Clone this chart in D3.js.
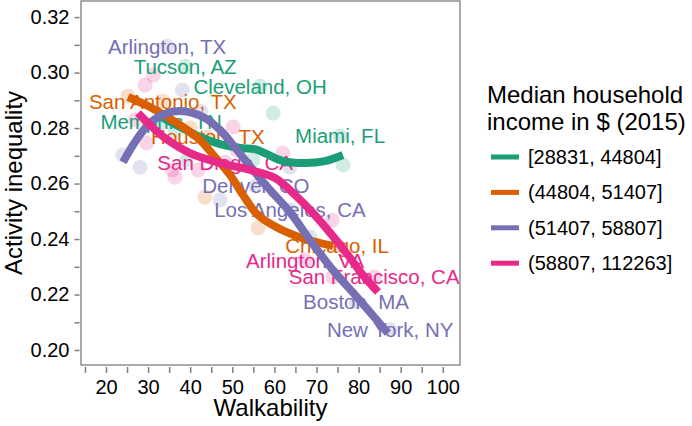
<!DOCTYPE html>
<html><head><meta charset="utf-8">
<script src="https://cdn.jsdelivr.net/npm/d3@7"></script>
<style>
html,body{margin:0;padding:0;background:#fff;}
text{font-family:"Liberation Sans",Arial,Helvetica,sans-serif;}
</style></head>
<body><svg id="chart" width="692" height="426"></svg>
<script>
// ---- data ----
const groups = ["[28831, 44804]", "(44804, 51407]", "(51407, 58807]", "(58807, 112263]"];
const colors = ["#1B9E77", "#D95F02", "#7570B3", "#E7298A"];

// labelled cities: [name, group index, walkability, inequality]
const cities = [
  ["Arlington, TX", 2, 34.5, 0.3095],
  ["Tucson, AZ", 0, 38.8, 0.3023],
  ["Cleveland, OH", 0, 56.6, 0.2951],
  ["San Antonio, TX", 1, 33.5, 0.2897],
  ["Memphis, TN", 0, 33.1, 0.2822],
  ["Houston, TX", 1, 44.2, 0.2768],
  ["Miami, FL", 0, 75.6, 0.2771],
  ["San Diego, CA", 3, 48.3, 0.2677],
  ["Denver, CO", 2, 55.6, 0.2591],
  ["Los Angeles, CA", 2, 63.7, 0.2505],
  ["Chicago, IL", 1, 74.9, 0.2378],
  ["Arlington, VA", 3, 67.3, 0.2324],
  ["San Francisco, CA", 3, 83.7, 0.2263],
  ["Boston, MA", 2, 79.4, 0.2173],
  ["New York, NY", 2, 87.5, 0.2072]
];

// other (unlabelled) cities: [group index, walkability, inequality]
const otherPoints = [
  [3, 31.2, 0.2991], [3, 29.3, 0.2955], [1, 25.2, 0.2915], [2, 38.1, 0.2937],
  [0, 59.7, 0.2854], [3, 50.2, 0.2804], [3, 29.7, 0.2746], [2, 24.0, 0.2703],
  [2, 28.1, 0.2659], [3, 35.7, 0.2649], [3, 36.4, 0.2623], [0, 39.2, 0.2685],
  [3, 41.9, 0.2649], [1, 43.5, 0.2551], [2, 47.1, 0.2541], [3, 62.0, 0.2710],
  [2, 63.7, 0.2659], [0, 54.9, 0.2685], [3, 51.1, 0.2721], [0, 76.3, 0.2667],
  [1, 56.1, 0.2440], [2, 68.5, 0.2407], [3, 73.7, 0.2468], [3, 73.9, 0.2263],
  [1, 40.0, 0.2800], [0, 36.5, 0.2790], [3, 27.0, 0.2830], [2, 42.5, 0.2860]
];

// smoothed trend curves per group: [walkability, inequality]
const smoothGreen = [[32.83,0.2843],[37.58,0.2804],[42.33,0.2768],[47.08,0.2742],[51.83,0.2728],[55.39,0.2724],[58.24,0.2706],[62.04,0.2681],[67.27,0.2674],[72.02,0.2681],[76.29,0.2703]];
const smoothOrange = [[25.23,0.2912],[30.45,0.2876],[36.86,0.2818],[42.33,0.2757],[45.89,0.2695],[49.45,0.2631],[52.54,0.2559],[56.10,0.2486],[61.33,0.2436],[67.27,0.2400],[73.92,0.2375]];
const smoothPurple = [[24.04,0.2677],[26.89,0.2750],[30.45,0.2818],[34.49,0.2854],[38.29,0.2861],[43.04,0.2840],[47.08,0.2793],[51.12,0.2721],[54.92,0.2649],[58.95,0.2577],[63.71,0.2497],[68.46,0.2396],[73.92,0.2288],[79.62,0.2191],[86.98,0.2061]];
const smoothPink = [[27.60,0.2854],[30.45,0.2811],[34.01,0.2764],[39.95,0.2710],[47.08,0.2674],[54.20,0.2649],[60.14,0.2620],[64.89,0.2559],[69.64,0.2486],[73.68,0.2414],[77.48,0.2342],[81.05,0.2270],[84.61,0.2209]];
const smooths = [smoothGreen, smoothOrange, smoothPurple, smoothPink];

const xTicks = d3.range(15, 101, 5);
const xLabels = [20, 30, 40, 50, 60, 70, 80, 90, 100];
const yTicks = d3.range(0.20, 0.3251, 0.01).map(v => +v.toFixed(2));
const yLabels = [0.20, 0.22, 0.24, 0.26, 0.28, 0.30, 0.32];

// ---- drawing ----
const svg = d3.select("#chart");
const P = {l: 81, r: 460, t: 1, b: 365};
const x = d3.scaleLinear().domain([14.06, 104.09]).range([P.l, P.r]);
const y = d3.scaleLinear().domain([0.1946, 0.3258]).range([P.b, P.t]);
const grey = "#7f7f7f";

svg.append("rect").attr("width", 692).attr("height", 426).attr("fill", "#fff");

// points
const allPts = cities.map(c => [c[1], c[2], c[3]]).concat(otherPoints);
svg.append("g").selectAll("circle").data(allPts).join("circle")
  .attr("cx", d => x(d[1])).attr("cy", d => y(d[2])).attr("r", 7.5)
  .attr("fill", d => colors[d[0]]).attr("fill-opacity", 0.2);

// labels
svg.append("g").selectAll("text").data(cities).join("text")
  .attr("x", d => x(d[2])).attr("y", d => y(d[3])).attr("dy", "0.36em")
  .attr("text-anchor", "middle").attr("font-size", 20.5)
  .attr("fill", d => colors[d[1]]).text(d => d[0]);

// smooth lines
const line = d3.line().x(d => x(d[0])).y(d => y(d[1])).curve(d3.curveCatmullRom.alpha(0.5));
svg.append("g").selectAll("path").data(smooths).join("path")
  .attr("d", line).attr("fill", "none")
  .attr("stroke", (d, i) => colors[i]).attr("stroke-width", 8)
  .attr("stroke-linecap", "butt").attr("stroke-linejoin", "round");

// panel border
svg.append("rect").attr("x", P.l).attr("y", P.t).attr("width", P.r - P.l).attr("height", P.b - P.t)
  .attr("fill", "none").attr("stroke", grey).attr("stroke-width", 1.3);

// axes
const xAxis = svg.append("g").attr("transform", `translate(0,${P.b + 2})`)
  .call(d3.axisBottom(x).tickValues(xTicks).tickSize(6).tickPadding(7)
    .tickFormat(d => xLabels.includes(d) ? d : ""));
const yAxis = svg.append("g").attr("transform", `translate(${P.l - 1.5},0)`)
  .call(d3.axisLeft(y).tickValues(yTicks).tickSize(5).tickPadding(5)
    .tickFormat(d => yLabels.some(v => Math.abs(v - d) < 1e-6) ? d3.format(".2f")(d) : ""));
[xAxis, yAxis].forEach(a => {
  a.select(".domain").remove();
  a.selectAll(".tick line").attr("stroke", grey).attr("stroke-width", 1.5);
  a.selectAll(".tick text").attr("font-size", 20).attr("fill", "#000")
    .style("font-family", '"Liberation Sans",Arial,Helvetica,sans-serif');
});

// axis titles
svg.append("text").attr("x", (P.l + P.r) / 2).attr("y", 416).attr("text-anchor", "middle")
  .attr("font-size", 24).attr("fill", "#000").text("Walkability");
svg.append("text").attr("transform", `translate(22,${(P.t + P.b) / 2}) rotate(-90)`)
  .attr("text-anchor", "middle").attr("font-size", 24).attr("fill", "#000").text("Activity inequality");

// legend
const lg = svg.append("g");
lg.append("text").attr("x", 487).attr("y", 103).attr("font-size", 24).attr("fill", "#000").text("Median household");
lg.append("text").attr("x", 487).attr("y", 130).attr("font-size", 24).attr("fill", "#000").text("income in $ (2015)");
const items = lg.selectAll("g.item").data(groups).join("g").attr("class", "item")
  .attr("transform", (d, i) => `translate(0,${157 + i * 35.4})`);
items.append("line").attr("x1", 491).attr("x2", 519).attr("stroke", (d, i) => colors[i]).attr("stroke-width", 5);
items.append("text").attr("x", 528).attr("dy", "0.35em").attr("font-size", 20).attr("fill", "#000").text(d => d);
</script></body></html>
